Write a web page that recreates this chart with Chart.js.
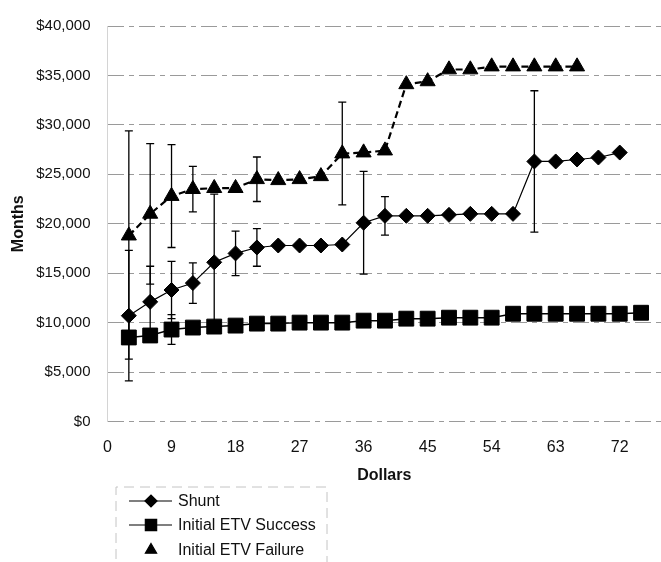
<!DOCTYPE html>
<html>
<head>
<meta charset="utf-8">
<script src="https://cdn.jsdelivr.net/npm/chart.js@4.4.0/dist/chart.umd.min.js"></script>
<style>
  html, body { margin: 0; padding: 0; background: #fff; overflow: hidden; }
  #wrap { position: relative; width: 661px; height: 562px; }
</style>
</head>
<body>
<div id="wrap"><canvas id="c" width="661" height="562"></canvas></div>
<script>
// Series data: x in dollars, y in months
const shuntX = [3, 6, 9, 12, 15, 18, 21, 24, 27, 30, 33, 36, 39, 42, 45, 48, 51, 54, 57, 60, 63, 66, 69, 72];
const shuntY = [10700, 12100, 13300, 14000, 16100, 17000, 17600, 17800, 17800, 17800, 17900, 20100,
                20800, 20800, 20800, 20900, 21000, 21000, 21000, 26300, 26300, 26500, 26700, 27200];
const shuntErr = [6600, 3600, 2900, 2050, 6900, 2250, 1900, null, null, null, null, 5200,
                  1950, null, null, null, null, null, null, 7150, null, null, null, null];

const successX = [3, 6, 9, 12, 15, 18, 21, 24, 27, 30, 33, 36, 39, 42, 45, 48, 51, 54, 57, 60, 63, 66, 69, 72, 75];
const successY = [8500, 8700, 9300, 9500, 9600, 9700, 9900, 9900, 10000, 10000, 10000, 10200, 10200,
                  10400, 10400, 10500, 10500, 10500, 10900, 10900, 10900, 10900, 10900, 10900, 11000];
const successErr = [2200, null, 1500, null, null, null, null, null, null, null, null, null, null,
                    null, null, null, null, null, null, null, null, null, null, null, null];

const failureX = [3, 6, 9, 12, 15, 18, 21, 24, 27, 30, 33, 36, 39, 42, 45, 48, 51, 54, 57, 60, 63, 66];
const failureY = [18800, 21000, 22800, 23500, 23600, 23600, 24500, 24400, 24500, 24800, 27100, 27200,
                  27400, 34100, 34400, 35600, 35600, 35900, 35900, 35900, 35900, 35900];
const failureErr = [10600, 7100, 5200, 2300, null, null, 2250, null, null, null, 5200, null,
                    null, null, null, null, null, null, null, null, null, null];

const seriesNames = ['Shunt', 'Initial ETV Success', 'Initial ETV Failure'];
const yTicks = [0, 5000, 10000, 15000, 20000, 25000, 30000, 35000, 40000];
const xTicks = [0, 9, 18, 27, 36, 45, 54, 63, 72];

const pts = (xs, ys) => xs.map((x, i) => ({ x: x, y: ys[i] }));
const FONT = '"Liberation Sans", Arial, sans-serif';

// Vertical error bars with caps, drawn under the markers
const errorBars = {
  id: 'errorBars',
  beforeDatasetsDraw(chart) {
    const ctx = chart.ctx;
    const xs = chart.scales.x, ys = chart.scales.y;
    ctx.save();
    ctx.strokeStyle = '#000';
    ctx.lineWidth = 1.3;
    chart.data.datasets.forEach(ds => {
      (ds.errors || []).forEach((e, i) => {
        if (e == null) return;
        const p = ds.data[i];
        const px = xs.getPixelForValue(p.x);
        const top = ys.getPixelForValue(p.y + e);
        const bot = ys.getPixelForValue(p.y - e);
        ctx.beginPath();
        ctx.moveTo(px, top); ctx.lineTo(px, bot);
        ctx.moveTo(px - 4, top); ctx.lineTo(px + 4, top);
        ctx.moveTo(px - 4, bot); ctx.lineTo(px + 4, bot);
        ctx.stroke();
      });
    });
    ctx.restore();
  }
};

// Boxed legend stacked under the plot
const boxLegend = {
  id: 'boxLegend',
  afterDraw(chart) {
    const ctx = chart.ctx;
    const left = 116, top = 487, right = 327;
    ctx.save();
    ctx.strokeStyle = '#c4c4c4';
    ctx.lineWidth = 1;
    ctx.setLineDash([10, 6]);
    ctx.beginPath();
    ctx.moveTo(left, 575); ctx.lineTo(left, top); ctx.lineTo(right, top); ctx.lineTo(right, 575);
    ctx.stroke();
    ctx.setLineDash([]);
    const rows = [501, 525, 550];
    chart.data.datasets.forEach((ds, i) => {
      const y = rows[i];
      if (!ds.legendNoLine) {
        ctx.strokeStyle = '#000';
        ctx.lineWidth = 1.2;
        ctx.beginPath(); ctx.moveTo(129, y); ctx.lineTo(172, y); ctx.stroke();
      }
      ctx.fillStyle = '#000';
      ctx.strokeStyle = '#000';
      Chart.helpers.drawPoint(ctx, {
        pointStyle: ds.pointStyle,
        radius: ds.legendRadius,
        borderWidth: 1
      }, 151, y);
      ctx.font = '16px ' + FONT;
      ctx.fillStyle = '#111';
      ctx.textBaseline = 'middle';
      ctx.textAlign = 'left';
      ctx.fillText(ds.label, 178, y + 1);
    });
    ctx.restore();
  }
};

new Chart(document.getElementById('c'), {
  type: 'scatter',
  data: {
    datasets: [
      {
        label: seriesNames[0],
        data: pts(shuntX, shuntY),
        errors: shuntErr,
        showLine: true,
        borderColor: '#000',
        borderWidth: 1.2,
        backgroundColor: '#000',
        pointStyle: 'rectRot',
        pointRadius: 7.5,
        pointBorderWidth: 1,
        legendRadius: 6,
        order: 3
      },
      {
        label: seriesNames[1],
        data: pts(successX, successY),
        errors: successErr,
        showLine: true,
        borderColor: '#000',
        borderWidth: 1.5,
        backgroundColor: '#000',
        pointStyle: 'rect',
        pointRadius: 10.5,
        pointBorderWidth: 1,
        legendRadius: 8,
        order: 2
      },
      {
        label: seriesNames[2],
        data: pts(failureX, failureY),
        errors: failureErr,
        showLine: true,
        legendNoLine: true,
        borderColor: '#000',
        borderWidth: 2.2,
        borderDash: [7, 4],
        backgroundColor: '#000',
        pointStyle: 'triangle',
        pointRadius: 8.7,
        pointBorderWidth: 1,
        legendRadius: 6.5,
        order: 1
      }
    ]
  },
  options: {
    responsive: false,
    animation: false,
    devicePixelRatio: 1,
    layout: { autoPadding: false, padding: { left: 0, right: 0, top: 20.7, bottom: 72.5 } },
    plugins: { legend: { display: false }, tooltip: { enabled: false } },
    scales: {
      x: {
        type: 'linear',
        min: 0,
        max: 77.8,
        afterBuildTicks: s => { s.ticks = xTicks.map(v => ({ value: v })); },
        afterFit: s => { s.height = 68; },
        ticks: { font: { family: FONT, size: 16 }, color: '#111', padding: 16, maxRotation: 0 },
        grid: { display: false, drawTicks: false },
        border: { display: false },
        title: { display: true, text: 'Dollars', font: { family: FONT, size: 16, weight: 'bold' }, color: '#111', padding: { top: 4, bottom: 4 } }
      },
      y: {
        min: 0,
        max: 40000,
        afterBuildTicks: s => { s.ticks = yTicks.map(v => ({ value: v })); },
        afterFit: s => { s.width = 107.5; },
        ticks: {
          font: { family: FONT, size: 15 }, color: '#111', padding: 17,
          callback: v => '$' + Number(v).toLocaleString('en-US')
        },
        grid: { color: '#9a9a9a', lineWidth: 1, drawTicks: false },
        border: { display: true, color: '#d4d4d4', dash: [16, 5, 5, 5] },
        title: { display: true, text: 'Months', font: { family: FONT, size: 16, weight: 'bold' }, color: '#111', padding: { top: 9, bottom: 4 } }
      }
    }
  },
  plugins: [errorBars, boxLegend]
});
</script>
</body>
</html>
